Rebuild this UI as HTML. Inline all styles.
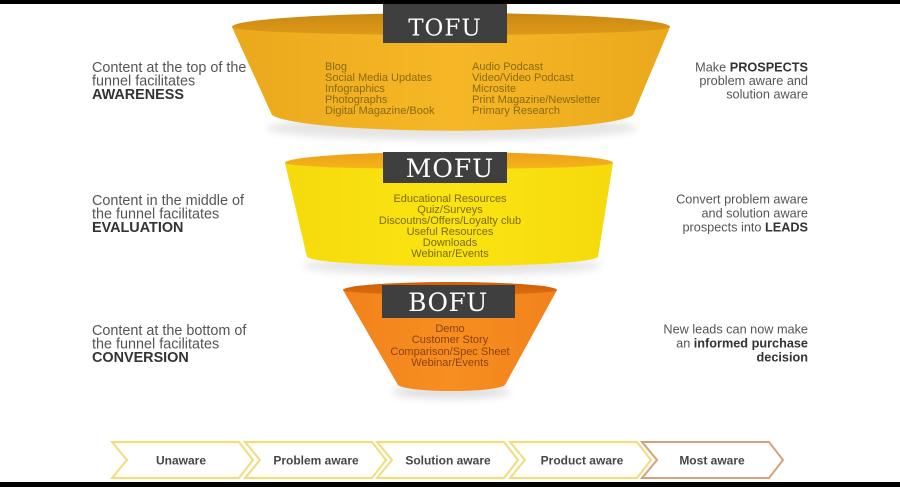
<!DOCTYPE html>
<html>
<head>
<meta charset="utf-8">
<style>
  html,body{margin:0;padding:0;background:#fff;}
  body{width:900px;height:487px;overflow:hidden;}
  svg{display:block;}
  .side{font-family:"Liberation Sans",Arial,sans-serif;fill:#555;}
  .b{font-weight:bold;fill:#333;}
  .inner{font-family:"Liberation Sans",Arial,sans-serif;font-size:11px;}
  .lbl{font-family:"DejaVu Serif","Liberation Serif",serif;fill:#fff;}
  .chev{font-family:"Liberation Sans",Arial,sans-serif;font-size:12px;font-weight:bold;fill:#474747;}
</style>
</head>
<body>
<svg width="900" height="487" viewBox="0 0 900 487" xmlns="http://www.w3.org/2000/svg">
  <defs>
    <linearGradient id="tofuBody" x1="0" y1="0" x2="1" y2="0">
      <stop offset="0" stop-color="#eaa91c"/>
      <stop offset="0.5" stop-color="#f6b726"/>
      <stop offset="1" stop-color="#eaa91c"/>
    </linearGradient>
    <linearGradient id="tofuTop" x1="0" y1="0" x2="0" y2="1">
      <stop offset="0" stop-color="#c98812"/>
      <stop offset="1" stop-color="#e39e1a"/>
    </linearGradient>
    <linearGradient id="mofuBody" x1="0" y1="0" x2="1" y2="0">
      <stop offset="0" stop-color="#f6da0c"/>
      <stop offset="0.5" stop-color="#fbe412"/>
      <stop offset="1" stop-color="#f6da0c"/>
    </linearGradient>
    <linearGradient id="mofuTop" x1="0" y1="0" x2="0" y2="1">
      <stop offset="0" stop-color="#ee9f1c"/>
      <stop offset="1" stop-color="#f5bd16"/>
    </linearGradient>
    <linearGradient id="bofuBody" x1="0" y1="0" x2="1" y2="0">
      <stop offset="0" stop-color="#f1821a"/>
      <stop offset="0.5" stop-color="#f78e22"/>
      <stop offset="1" stop-color="#f1821a"/>
    </linearGradient>
    <linearGradient id="bofuTop" x1="0" y1="0" x2="0" y2="1">
      <stop offset="0" stop-color="#cf5e0a"/>
      <stop offset="1" stop-color="#e0700f"/>
    </linearGradient>
    <linearGradient id="chevFill" x1="0" y1="0" x2="0" y2="1">
      <stop offset="0" stop-color="#fffbea"/>
      <stop offset="0.2" stop-color="#ffffff"/>
      <stop offset="0.8" stop-color="#ffffff"/>
      <stop offset="1" stop-color="#fffbea"/>
    </linearGradient>
    <filter id="blur" x="-20%" y="-100%" width="140%" height="300%">
      <feGaussianBlur stdDeviation="4"/>
    </filter>
  </defs>

  <!-- shadows -->
  <ellipse cx="452" cy="128" rx="185" ry="12" fill="#000" opacity="0.10" filter="url(#blur)"/>
  <ellipse cx="452" cy="266" rx="150" ry="9" fill="#000" opacity="0.10" filter="url(#blur)"/>
  <ellipse cx="451" cy="392" rx="60" ry="7" fill="#000" opacity="0.12" filter="url(#blur)"/>

  <!-- TOFU -->
  <ellipse cx="451" cy="27" rx="219" ry="14" fill="url(#tofuTop)"/>
  <path d="M232,27 L272,115 A182,18 0 0 0 633,115 L670,27 A219,8 0 0 1 232,27 Z" fill="url(#tofuBody)"/>
  <rect x="383" y="0" width="124" height="43" fill="#3f3f3f"/>
  <text class="lbl" x="445" y="35.5" font-size="23" text-anchor="middle" letter-spacing="1">TOFU</text>
  <g class="inner" fill="#8a6a12">
    <text x="325" y="70">Blog</text>
    <text x="325" y="81">Social Media Updates</text>
    <text x="325" y="92">Infographics</text>
    <text x="325" y="103">Photographs</text>
    <text x="325" y="114">Digital Magazine/Book</text>
    <text x="472" y="70">Audio Podcast</text>
    <text x="472" y="81">Video/Video Podcast</text>
    <text x="472" y="92">Microsite</text>
    <text x="472" y="103">Print Magazine/Newsletter</text>
    <text x="472" y="114">Primary Research</text>
  </g>

  <!-- MOFU -->
  <ellipse cx="449" cy="163" rx="164" ry="11" fill="url(#mofuTop)"/>
  <path d="M285,163 L307,257 A146,10 0 0 0 598,257 L613,163 A164,6 0 0 1 285,163 Z" fill="url(#mofuBody)"/>
  <rect x="383" y="152" width="124" height="31" fill="#3f3f3f"/>
  <text class="lbl" x="450" y="177" font-size="25" text-anchor="middle" letter-spacing="1">MOFU</text>
  <g class="inner" fill="#7a6c0a" text-anchor="middle">
    <text x="450" y="202">Educational Resources</text>
    <text x="450" y="213">Quiz/Surveys</text>
    <text x="450" y="224">Discoutns/Offers/Loyalty club</text>
    <text x="450" y="235">Useful Resources</text>
    <text x="450" y="246">Downloads</text>
    <text x="450" y="257">Webinar/Events</text>
  </g>

  <!-- BOFU -->
  <ellipse cx="450" cy="290" rx="107" ry="8" fill="url(#bofuTop)"/>
  <path d="M343,290 L398,385 A54,7 0 0 0 505,385 L557,290 A107,5 0 0 1 343,290 Z" fill="url(#bofuBody)"/>
  <rect x="382" y="285" width="133" height="33" fill="#3f3f3f"/>
  <text class="lbl" x="448" y="311" font-size="25" text-anchor="middle" letter-spacing="0.5">BOFU</text>
  <g class="inner" fill="#8a4210" text-anchor="middle">
    <text x="450" y="332">Demo</text>
    <text x="450" y="343">Customer Story</text>
    <text x="450" y="355">Comparison/Spec Sheet</text>
    <text x="450" y="366">Webinar/Events</text>
  </g>

  <!-- left texts -->
  <g class="side" font-size="14.4">
    <text x="92" y="72">Content at the top of the</text>
    <text x="92" y="85.5">funnel facilitates</text>
    <text x="92" y="99" class="b">AWARENESS</text>
    <text x="92" y="205">Content in the middle of</text>
    <text x="92" y="218.5">the funnel facilitates</text>
    <text x="92" y="232" class="b">EVALUATION</text>
    <text x="92" y="335">Content at the bottom of</text>
    <text x="92" y="348.5">the funnel facilitates</text>
    <text x="92" y="362" class="b">CONVERSION</text>
  </g>

  <!-- right texts -->
  <g class="side" font-size="12.7" text-anchor="end">
    <text x="808" y="71.5">Make <tspan class="b">PROSPECTS</tspan></text>
    <text x="808" y="85">problem aware and</text>
    <text x="808" y="98.5">solution aware</text>
    <text x="808" y="203.5">Convert problem aware</text>
    <text x="808" y="217.5">and solution aware</text>
    <text x="808" y="231.5">prospects into <tspan class="b">LEADS</tspan></text>
    <text x="808" y="333.5">New leads can now make</text>
    <text x="808" y="347.5">an <tspan class="b">informed purchase</tspan></text>
    <text x="808" y="361.5" class="b">decision</text>
  </g>

  <!-- chevrons -->
  <g stroke-width="2" stroke-linejoin="miter">
    <polygon points="112,442 239,442 253,460 239,478 112,478 127,460" fill="url(#chevFill)" stroke="#f1dc7c"/>
    <polygon points="245,442 372,442 386,460 372,478 245,478 260,460" fill="url(#chevFill)" stroke="#f1dc7c"/>
    <polygon points="377,442 504,442 518,460 504,478 377,478 392,460" fill="url(#chevFill)" stroke="#f1dc7c"/>
    <polygon points="510,442 637,442 651,460 637,478 510,478 525,460" fill="url(#chevFill)" stroke="#f1dc7c"/>
    <polygon points="642,442 769,442 783,460 769,478 642,478 657,460" fill="#fff" stroke="#d9a079"/>
  </g>
  <g class="chev" text-anchor="middle">
    <text x="181" y="464.5">Unaware</text>
    <text x="316" y="464.5">Problem aware</text>
    <text x="448" y="464.5">Solution aware</text>
    <text x="582" y="464.5">Product aware</text>
    <text x="712" y="464.5">Most aware</text>
  </g>

  <!-- black border bars -->
  <rect x="0" y="0" width="900" height="4" fill="#000"/>
  <rect x="0" y="482" width="900" height="5" fill="#000"/>
</svg>
</body>
</html>
